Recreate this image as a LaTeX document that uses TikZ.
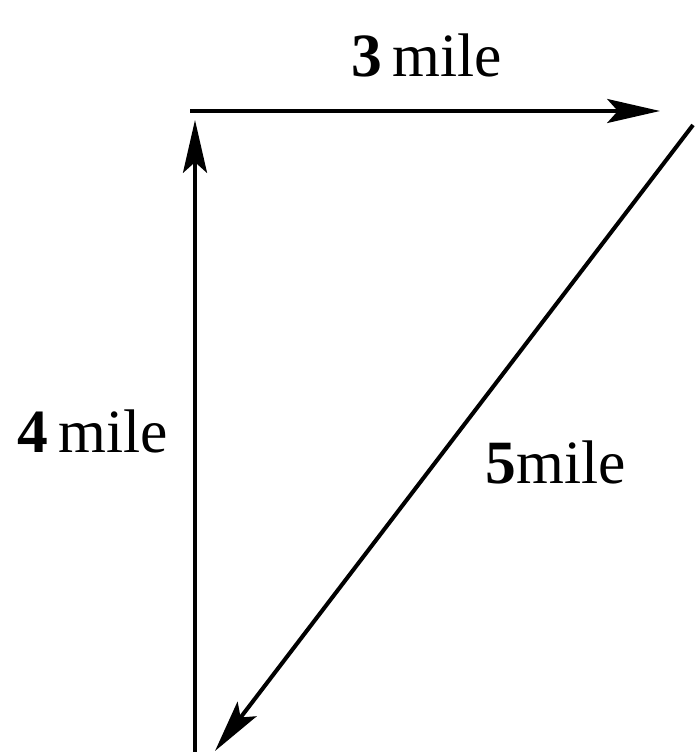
\documentclass[tikz,border=0pt]{standalone}
\usepackage{fontspec}
\setmainfont{Liberation Serif}
\usetikzlibrary{arrows.meta}
\begin{document}
\begin{tikzpicture}[x=0.01cm,y=-0.01cm,
  vec/.style={line width=1.15pt,-{Stealth[length=15pt,width=6.8pt,inset=3pt]}},
  lbl/.style={anchor=base west,inner sep=0pt,font=\fontsize{17.5}{20}\selectfont}]
\useasboundingbox (0,0) rectangle (696,752);
\coordinate (hs) at (190,111);
\coordinate (he) at (660,111);
\coordinate (vs) at (195,756);
\coordinate (ve) at (195,120);
\coordinate (ds) at (693,125);
\coordinate (de) at (215,751);
\draw[vec] (hs) -- (he);
\draw[vec] (vs) -- (ve);
\draw[vec] (ds) -- (de);
\node[lbl] (l3) at (351,77) {\textbf{3}\,mile};
\node[lbl] (l4) at (17,452) {\textbf{4}\,mile};
\node[lbl] (l5) at (485,483) {\textbf{5}mile};
\end{tikzpicture}
\end{document}
